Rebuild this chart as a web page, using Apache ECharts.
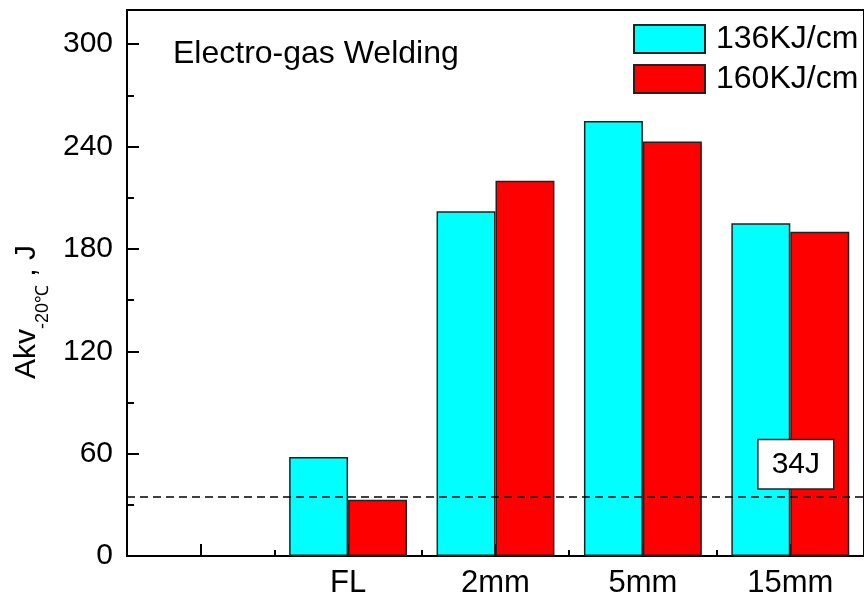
<!DOCTYPE html>
<html>
<head>
<meta charset="utf-8">
<script src="https://cdn.jsdelivr.net/npm/echarts@6/dist/echarts.min.js"></script>
<style>html,body{margin:0;padding:0;background:#fff;}#c{width:864px;height:599px;}</style>
</head>
<body>
<div id="c"></div>
<script>
const categories = ['', 'FL', '2mm', '5mm', '15mm'];
const series136 = [null, 58, 202, 255, 195];
const series160 = [null, 33, 220, 243, 190];
const seriesNames = ['136KJ/cm', '160KJ/cm'];
const refValue = 35;
const refLabel = '34J';
const yTicks = { min: 0, max: 320, major: 60, minor: 30 };

const FONT = 'Arial, "Liberation Sans", sans-serif';
const chart = echarts.init(document.getElementById('c'));
chart.setOption({
  animation: false,
  backgroundColor: '#fff',
  textStyle: { fontFamily: FONT, color: '#000' },
  title: {
    text: 'Electro-gas Welding', left: 173, top: 38, padding: 0,
    textStyle: { fontFamily: FONT, fontSize: 32, fontWeight: 'normal', color: '#000' }
  },
  legend: {
    orient: 'vertical', left: 633, top: 23, padding: 0,
    itemWidth: 71, itemHeight: 28, itemGap: 8,
    icon: 'rect',
    data: seriesNames,
    textStyle: { fontFamily: FONT, fontSize: 32, color: '#000', padding: [0, 0, 0, 6] }
  },
  grid: {
    left: 127, top: 10, width: 746.5, height: 549,
    show: true, borderColor: '#000', borderWidth: 2, backgroundColor: 'transparent'
  },
  xAxis: [{
    type: 'category', data: categories, boundaryGap: true,
    axisLine: { show: true, lineStyle: { color: '#000', width: 2 } },
    axisTick: { show: true, inside: true, length: 6, alignWithLabel: false, lineStyle: { color: '#000', width: 2 } },
    axisLabel: { fontFamily: FONT, fontSize: 31, color: '#000', margin: 12 },
    splitLine: { show: false }
  }, {
    type: 'category', data: categories, boundaryGap: true, position: 'bottom',
    axisLine: { show: false },
    axisTick: { show: true, inside: true, length: 12, alignWithLabel: true, lineStyle: { color: '#000', width: 2 } },
    axisLabel: { show: false },
    splitLine: { show: false }
  }],
  yAxis: [{
    type: 'value', min: yTicks.min, max: yTicks.max, interval: yTicks.major,
    axisLine: { show: true, lineStyle: { color: '#000', width: 2 } },
    axisTick: { show: true, inside: true, length: 12, lineStyle: { color: '#000', width: 2 } },
    axisLabel: { fontFamily: FONT, fontSize: 30, color: '#000', margin: 14, showMaxLabel: false },
    splitLine: { show: false },
    name: '{a|Akv}{s|-20℃}{a| , J}',
    nameLocation: 'middle', nameRotate: 90, nameGap: 79,
    nameTextStyle: {
      padding: [0, 58, 0, 0],
      rich: {
        a: { fontFamily: FONT, fontSize: 30, color: '#000', lineHeight: 32, verticalAlign: 'top' },
        s: { fontFamily: FONT, fontSize: 18, color: '#000', lineHeight: 18, padding: [22, 0, 0, 0], verticalAlign: 'top' }
      }
    }
  }, {
    type: 'value', min: yTicks.min, max: yTicks.max, interval: yTicks.minor, position: 'left',
    axisLine: { show: false },
    axisTick: { show: true, inside: true, length: 7, lineStyle: { color: '#000', width: 2 } },
    axisLabel: { show: false },
    splitLine: { show: false }
  }],
  series: [{
    name: seriesNames[0], type: 'bar', xAxisIndex: 0, yAxisIndex: 0,
    data: series136, barWidth: '40%', barGap: '0%',
    itemStyle: { color: '#00ffff', borderColor: '#222', borderWidth: 1.5 },
    markLine: {
      silent: true, symbol: 'none', z: 10,
      lineStyle: { color: '#000', width: 1.5, type: [8, 5] },
      label: {
        show: true, formatter: refLabel, position: 'insideEndTop',
        fontFamily: FONT, fontSize: 30, color: '#000',
        backgroundColor: '#fff', borderColor: '#222', borderWidth: 1.5,
        padding: [9, 13, 9, 13], distance: [31, 8]
      },
      data: [{ yAxis: refValue }]
    }
  }, {
    name: seriesNames[1], type: 'bar', xAxisIndex: 0, yAxisIndex: 0,
    data: series160, barWidth: '40%', barGap: '0%',
    itemStyle: { color: '#ff0000', borderColor: '#222', borderWidth: 1.5 }
  }]
});
</script>
</body>
</html>
